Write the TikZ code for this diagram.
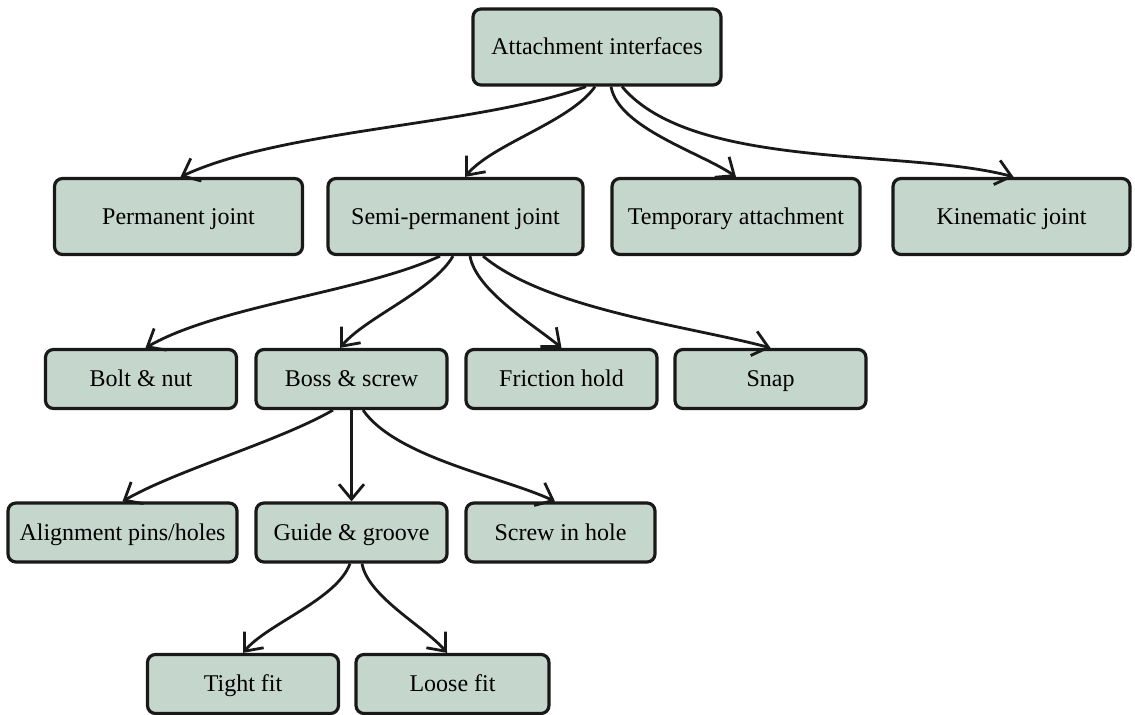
\documentclass[tikz,border=0pt]{standalone}
\usepackage{fontspec}
\setmainfont{Liberation Serif}
\usetikzlibrary{arrows.meta}

\definecolor{sage}{RGB}{197,214,204}

\tikzset{
  catbox/.style={draw=black!90, line width=1.6pt, fill=sage, rounded corners=4pt,
    minimum width=124pt, minimum height=38pt, inner sep=2pt,
    text height=2ex, text depth=0.3ex,
    font=\fontsize{12}{14}\selectfont},
  subbox/.style={catbox, minimum width=95.5pt, minimum height=29.5pt},
  link/.style={line width=1.4pt, draw=black!90, looseness=0.7,
    -{Straight Barb[length=7.5pt, width=12.5pt, line width=1.4pt]}}
}

\begin{document}
\begin{tikzpicture}[x=0.5pt, y=0.5pt]

\useasboundingbox (0,0) rectangle (1135,-715);

% top level
\node[catbox] (attach) at (597,-47) {Attachment interfaces};

% joint types
\node[catbox] (perm) at (178.5,-216.5) {Permanent joint};
\node[catbox, minimum width=127.5pt] (semi) at (455.5,-216.5) {Semi-permanent joint};
\node[catbox] (temp) at (736,-216.5) {Temporary attachment};
\node[catbox, minimum width=118.5pt] (kine) at (1011.5,-216.5) {Kinematic joint};

% semi-permanent options
\node[subbox] (bolt) at (141,-379) {Bolt \& nut};
\node[subbox] (boss) at (351.5,-379) {Boss \& screw};
\node[subbox] (fric) at (561.5,-379) {Friction hold};
\node[subbox] (snap) at (770.5,-379) {Snap};

% boss & screw options
\node[subbox, minimum width=114.5pt] (align) at (122.5,-532.5) {Alignment pins/holes};
\node[subbox] (guide) at (351.5,-532.5) {Guide \& groove};
\node[subbox, minimum width=94.5pt] (screw) at (560.5,-532.5) {Screw in hole};

% guide & groove options
\node[subbox] (tight) at (243,-684) {Tight fit};
\node[subbox, minimum width=96.5pt] (loose) at (452.5,-684) {Loose fit};

\draw[link] ([xshift=-5.5pt]attach.south) to[out=200, in=25] ([xshift=1pt]perm.north);
\draw[link] ([xshift=-1pt]attach.south) to[out=235, in=50] ([xshift=4.75pt]semi.north);
\draw[link] ([xshift=7pt]attach.south) to[out=280, in=145] (temp.north);
\draw[link] ([xshift=12.5pt]attach.south) to[out=310, in=165] ([xshift=1pt]kine.north);

\draw[link] ([xshift=-7.75pt]semi.south) to[out=205, in=30] ([xshift=2.25pt]bolt.north);
\draw[link] ([xshift=-1.25pt]semi.south) to[out=240, in=50] ([xshift=-5.75pt]boss.north);
\draw[link] ([xshift=7.25pt]semi.south) to[out=280, in=140] (fric.north);
\draw[link] ([xshift=13.75pt]semi.south) to[out=320, in=165] (snap.north);

\draw[link] ([xshift=-9.25pt]boss.south) to[out=210, in=30] (align.north);
\draw[link] (boss.south) -- (guide.north);
\draw[link] ([xshift=5.75pt]boss.south) to[out=305, in=155] ([xshift=-2.75pt]screw.north);

\draw[link] ([xshift=-0.75pt]guide.south) to[out=250, in=50] (tight.north);
\draw[link] ([xshift=5.25pt]guide.south) to[out=280, in=130] ([xshift=-2.75pt]loose.north);

\end{tikzpicture}
\end{document}
